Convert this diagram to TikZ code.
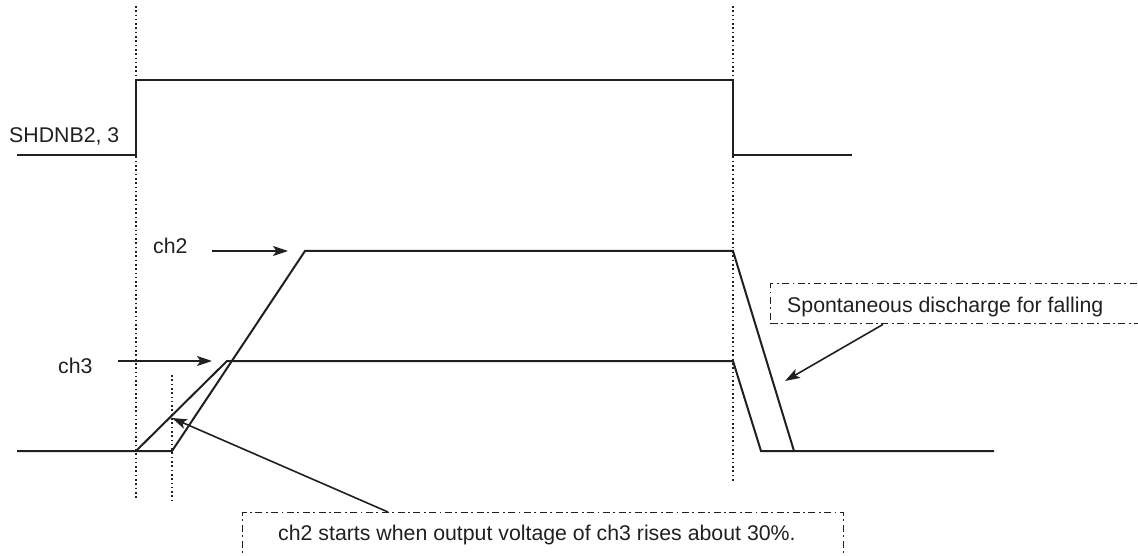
\documentclass[tikz,border=0pt]{standalone}
\usepackage{fontspec}
\setmainfont{Liberation Sans}
\usetikzlibrary{arrows.meta}
\definecolor{ink}{HTML}{231F20}
\tikzset{
  sig/.style={draw=ink, line width=2pt, line join=miter},
  guide/.style={draw=ink, line width=1.3pt, dash pattern=on 1.6pt off 2.7pt},
  pointer/.style={draw=ink, line width=1.6pt, -{Stealth[length=15pt,width=10pt,inset=3.5pt]}},
  notebox/.style={draw=ink, line width=1.4pt, dash pattern=on 7pt off 3.5pt on 1.8pt off 3.5pt, inner sep=0pt},
  lbl/.style={text=ink, inner sep=0pt, anchor=base west, font=\fontsize{21.3}{25}\selectfont}
}
\begin{document}
\begin{tikzpicture}[x=1pt,y=-1pt]
\useasboundingbox (0,0) rectangle (1138,556);
% guide lines
\coordinate (g1t) at (136,6);  \coordinate (g1b) at (136,498);
\coordinate (g2t) at (172,375); \coordinate (g2b) at (172,500);
\coordinate (g3t) at (733,6);  \coordinate (g3b) at (733,481);
\draw[guide] (g1t) -- (g1b);
\draw[guide] (g2t) -- (g2b);
\draw[guide] (g3t) -- (g3b);
% SHDNB2,3 signal
\coordinate (s0) at (17,155); \coordinate (s1) at (136,155); \coordinate (s2) at (136,80);
\coordinate (s3) at (733,80); \coordinate (s4) at (733,155); \coordinate (s5) at (852,155);
\draw[sig] (s0) -- (s1) -- (s2) -- (s3) -- (s4) -- (s5);
% ch3 signal
\coordinate (c30) at (17,451); \coordinate (c31) at (136,451); \coordinate (c32) at (227,361);
\coordinate (c33) at (733,361); \coordinate (c34) at (761,451); \coordinate (c35) at (994,451);
\draw[sig] (c30) -- (c31) -- (c32) -- (c33) -- (c34) -- (c35);
% ch2 signal
\coordinate (c21) at (172,451); \coordinate (c22) at (305,251);
\coordinate (c23) at (733,251); \coordinate (c24) at (794,451);
\draw[sig] (c31) -- (c21) -- (c22) -- (c23) -- (c24);
% labels
\node[lbl] (lshdn) at (9,143) {SHDNB2, 3};
\node[lbl] (lch2) at (153,254) {ch2};
\node[lbl] (lch3) at (58,373) {ch3};
% level arrows
\coordinate (a2s) at (212,251); \coordinate (a2e) at (288,251);
\coordinate (a3s) at (118,361); \coordinate (a3e) at (212,361);
\draw[pointer] (a2s) -- (a2e);
\draw[pointer] (a3s) -- (a3e);
% note boxes
\node[notebox, minimum width=400pt, minimum height=40pt, anchor=north west] (sb) at (770,283) {};
\node[lbl] (sbt) at (787,312) {Spontaneous discharge for falling};
\node[notebox, minimum width=601pt, minimum height=50pt, anchor=north west] (nb) at (242,512) {};
\node[lbl] (nbt) at (278,540) {ch2 starts when output voltage of ch3 rises about 30\%.};
% note pointers
\coordinate (tipR) at (785,381);
\coordinate (tipL) at (172,418);
\draw[pointer] ([xshift=113pt]sb.south west) -- (tipR);
\draw[pointer] ([xshift=146pt]nb.north west) -- (tipL);
\end{tikzpicture}
\end{document}
